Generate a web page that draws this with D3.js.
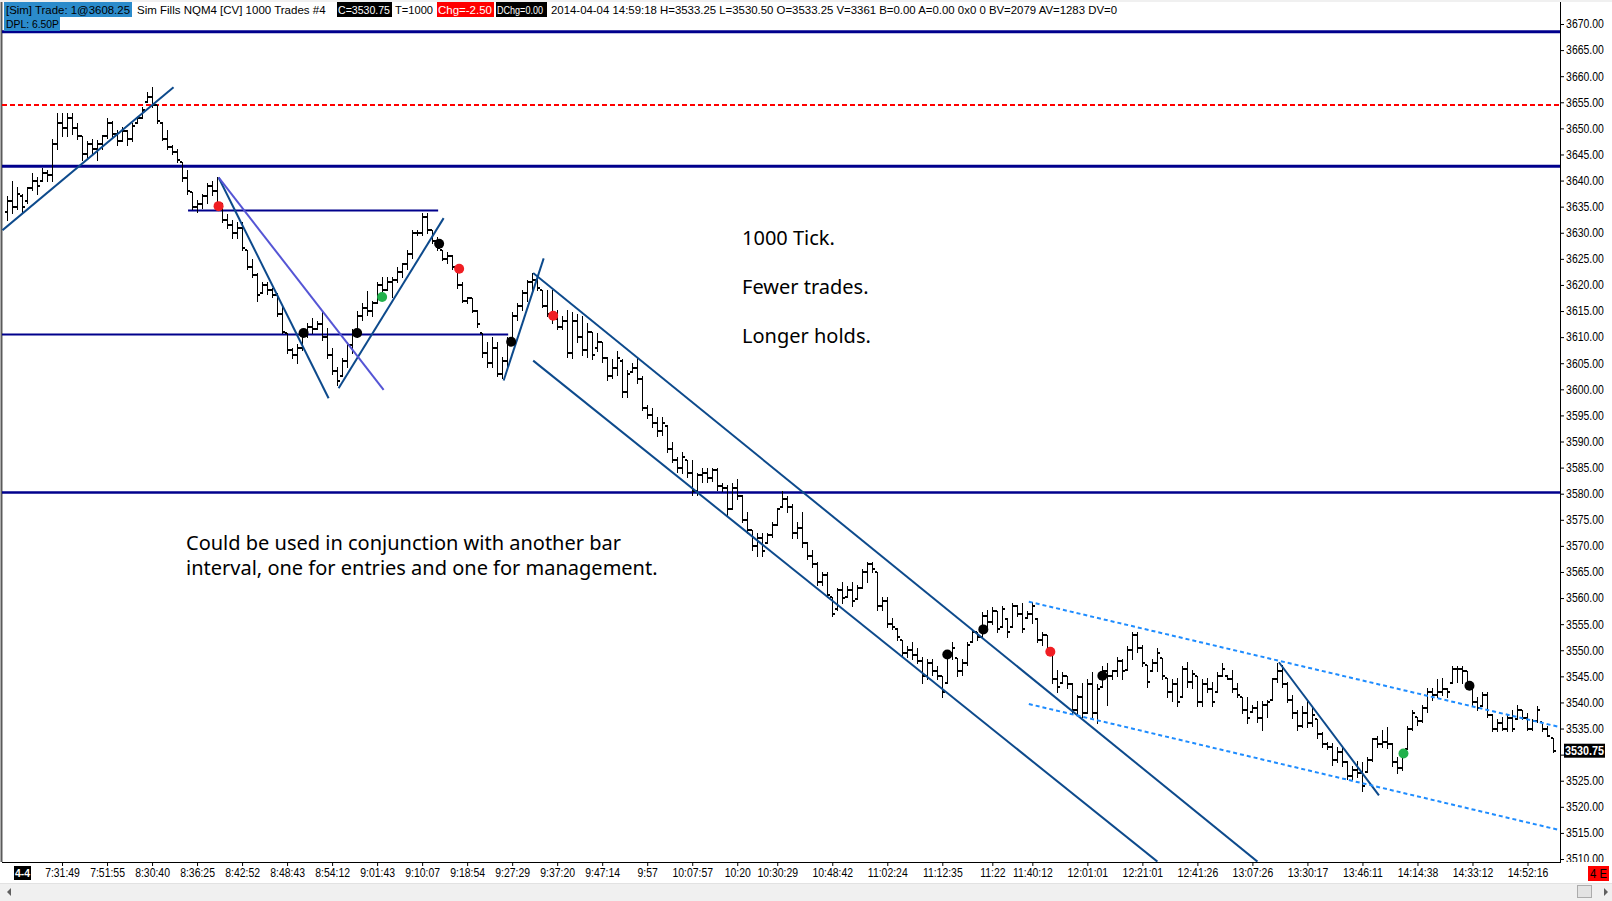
<!DOCTYPE html>
<html>
<head>
<meta charset="utf-8">
<script src="https://cdn.jsdelivr.net/npm/d3@7/dist/d3.min.js"></script>
<style>
body { margin: 0; background: #fff; overflow: hidden; }
svg { display: block; background: #fff; }
.hdr { font-family: "Liberation Sans", Arial, sans-serif; font-size: 11.5px; }
.axis text { font-family: "Liberation Sans", Arial, sans-serif; font-size: 12px; fill: #000; }
.axis line { stroke: #000; }
.note { font-family: "Noto Sans", "Open Sans", sans-serif; font-size: 20px; fill: #000; }
</style>
</head>
<body>
<svg id="chart" width="1612" height="901"></svg>
<script>
// 1000 tick bars, NQM4, 2014-04-04
var opens = [
 3634,3636,3635,3637,3636,3638.5,3640,3640,3641.5,3641,
 3647,3651,3650,3652,3650,3648.5,3645,3647,3646,3647,
 3648.5,3651,3649,3647.5,3649.5,3648,3651,3652,3655,3656,
 3654.5,3651,3648,3646.5,3645.5,3643.5,3640.5,3637.75,3635,3635.5,
 3637,3639,3638,3635,3632.5,3631.5,3630,3631,3626.75,3623.5,
 3622,3618.5,3620,3619,3618,3614.5,3610.75,3607.5,3606.5,3608,
 3610.5,3612,3611.5,3612.5,3610,3606.5,3603.5,3602.5,3605.5,3608.5,
 3610.5,3614,3615.5,3615,3616.5,3620,3619,3620.5,3621,3622.5,
 3624,3626,3630,3630,3633,3630.5,3628.5,3626.75,3625,3625.5,
 3623,3620,3617,3617.5,3615,3610.75,3607,3605,3608,3603,
 3605.5,3609.5,3614,3616,3618.5,3620.5,3621,3619,3616,3614.5,
 3613.5,3612,3613,3607,3613,3610,3607.5,3611,3608,3609,
 3606,3602.5,3604,3605.5,3599.5,3603.25,3604,3602,3596.5,3595,
 3593.5,3592,3593,3588.5,3586.5,3585,3586.5,3584,3580.5,3583.5,
 3584,3583,3584.5,3581.5,3581,3577,3581,3579.5,3575,3573,
 3570,3571.5,3570.5,3572,3574,3577.5,3579,3577.5,3572.5,3573.5,
 3570.5,3568,3566.5,3563,3564.5,3560.25,3558,3561.5,3560.25,3561.5,
 3559.75,3562,3565,3566.5,3565,3558.5,3559.5,3555,3554,3552,
 3549.5,3550,3549,3548,3545,3547.5,3546,3545,3543.75,3549.5,
 3548.5,3546,3547.5,3551.5,3553.5,3552.5,3556.5,3555.5,3557.5,3554.5,
 3556,3554.5,3558.5,3557,3556.25,3557,3556,3552,3553,3549.5,
 3544.5,3543.75,3545,3543.5,3538.5,3541,3538,3543.5,3538,3543,
 3546,3545,3546,3548,3546.25,3550,3553,3550.5,3547.25,3546,
 3547.5,3548.5,3544.75,3542,3543.5,3541,3546.5,3544,3545,3540,
 3543.5,3542.5,3542,3545,3545,3544.5,3542.5,3541,3538.5,3538.25,
 3539,3537,3539.5,3540.5,3544.5,3546,3543.5,3540.5,3538,3535.5,
 3538,3536,3536.75,3534,3532,3531.5,3529,3530.5,3528.5,3526,
 3527,3526.5,3526.75,3529,3533,3532,3532.5,3532,3528.5,3527.5,
 3531,3535,3537.25,3536.5,3539,3542,3541.5,3542,3542.5,3543.75,
 3546.5,3546.5,3546,3543.5,3540,3539.25,3541.5,3537.5,3535,3536,
 3535,3537,3536.75,3538.5,3537,3535,3536.5,3536.25,3535,3533.25
];
var highs = [
 3637,3640,3638.75,3637.5,3638.75,3641.5,3640.75,3642.5,3642,3648,
 3653,3653,3653,3653,3651,3648.5,3647.5,3648,3647.75,3648.75,
 3652,3651.5,3649.75,3650.25,3649.75,3651,3652.25,3654,3657,3658,
 3654.5,3651.25,3649.75,3646.75,3646,3643.5,3642,3637.75,3636.25,3637.5,
 3639.5,3640,3640.75,3635.75,3633.5,3632.5,3632,3632,3626.75,3625,
 3622.25,3620.5,3620.5,3619.5,3618.5,3615.75,3610.75,3608,3608.75,3611.5,
 3612.75,3613.75,3613,3614.75,3611.75,3608,3604.25,3606,3609,3611.5,
 3615,3616.5,3618.75,3617,3620.5,3621.5,3621.5,3621.5,3623.5,3624.25,
 3626.75,3630.5,3630.5,3633.75,3633.75,3630.5,3629.25,3626.75,3626.25,3625.75,
 3623.25,3620.5,3617.75,3617.5,3615.25,3610.75,3609,3610,3609,3606.25,
 3610,3614.75,3616.5,3619,3621,3622.25,3621.5,3619,3619,3619,
 3615.25,3614,3615.25,3614.75,3614.5,3614,3612.75,3611,3610.75,3609,
 3606.25,3605.75,3607.25,3605.75,3603.75,3605,3606.25,3602.5,3597,3596.5,
 3594.75,3594.75,3593.25,3590,3587,3588,3586.5,3586.5,3584,3585,
 3585,3585,3585,3582,3581.75,3582,3582.75,3579.75,3576.5,3573,
 3572.5,3572.5,3572.5,3574.5,3577.25,3580.5,3579.5,3578,3574.5,3576.5,
 3570.75,3569.25,3567,3565,3565,3560.25,3562,3563,3562.25,3563,
 3562.5,3565.5,3567,3567,3565,3560.25,3560.25,3556.25,3554.25,3552,
 3550.75,3551.5,3550.5,3548.75,3548.25,3548.25,3547,3545,3550,3551.5,
 3548.5,3548.25,3551.5,3554,3553.5,3557.25,3557.75,3558.25,3557.5,3558.5,
 3556.25,3559,3558.75,3559,3557.5,3559.25,3556.25,3553.5,3553,3549.5,
 3546.25,3545.75,3545,3543.75,3541.5,3543.75,3544.5,3545.75,3543.5,3547,
 3547.5,3546.25,3548.75,3548.25,3550.75,3553.5,3553.5,3551,3547.25,3548.25,
 3550.5,3548.5,3544.75,3544.5,3544.75,3547,3547.75,3546.25,3545,3544.5,
 3544.75,3544,3545.75,3547.5,3545.25,3546.25,3543.75,3541,3541,3539.5,
 3540.25,3540.25,3540.5,3544.75,3547.5,3547.25,3544,3541.5,3538.5,3539.25,
 3540.25,3539.25,3536.75,3534.25,3532.5,3532.25,3531.5,3531.25,3528.75,3527.75,
 3528.75,3528.5,3529.5,3533.25,3533.5,3534.75,3535.25,3532.25,3529.5,3531,
 3535.5,3538.5,3537.25,3539.5,3542.75,3542.75,3544.5,3544.75,3542.75,3547,
 3547,3547,3546,3543.75,3541,3542,3542,3537.75,3536.75,3537.25,
 3537.75,3538.5,3539.5,3538.5,3538,3536.75,3539.25,3536.25,3535.5,3533.25
];
var lows = [
 3632.5,3633.75,3634.5,3633.75,3635.75,3638.25,3637.5,3640,3640,3640,
 3646,3648.5,3648.5,3649,3648,3644,3644.5,3645,3644,3646,
 3648.25,3648.25,3646.75,3647.5,3646.75,3647.5,3651,3652,3655,3654,
 3651,3647.75,3646,3645,3643.5,3640,3637.5,3634.5,3634,3634.75,
 3635.75,3637.25,3634.5,3632,3631,3629,3629,3626.75,3623,3621.5,
 3617,3618.5,3618.25,3617.75,3614,3610.75,3607,3606,3605,3607.5,
 3610,3610.75,3611.5,3609.5,3606,3603,3600.75,3602.5,3604.25,3607,
 3610,3613.25,3614.25,3614,3616.5,3618,3619,3617.75,3620.5,3621.5,
 3623,3625.25,3629.5,3629.5,3630,3628,3626.75,3624.75,3624.25,3623,
 3619.5,3616.75,3616.5,3614.75,3612,3606.25,3604.25,3604.25,3602.5,3602.25,
 3604.25,3609.5,3613.25,3615.25,3617,3619,3619,3615.75,3614,3612.75,
 3611.5,3611.5,3606.25,3606,3609,3606.5,3606.25,3605.75,3607.25,3605.25,
 3601.75,3602.25,3602.75,3598.5,3598.5,3603.25,3601.25,3596,3594.5,3592.75,
 3591,3591.25,3588,3586,3584.25,3584,3583.25,3579.75,3579.75,3582.25,
 3582.25,3582.5,3580.75,3580.5,3576,3577,3579,3574.5,3572.5,3569.25,
 3568,3568,3570.5,3571.75,3574,3577.5,3576.5,3571.5,3571.5,3569.75,
 3567.5,3566,3562.5,3562.5,3560.25,3556.5,3557.75,3559,3560.25,3558.5,
 3559.75,3562,3563,3565,3557.75,3557.75,3554.5,3554,3552,3548.75,
 3548.75,3548.25,3547.5,3543.75,3544.5,3545.25,3544.5,3541,3543.75,3548.25,
 3545,3545.25,3547.25,3551.5,3552,3552.5,3554.5,3555,3553.5,3554.5,
 3552.5,3554.5,3556.5,3553.5,3556.25,3555.25,3551.5,3551,3549.75,3543.75,
 3542,3543.75,3542.75,3538,3537.75,3537.25,3538,3537.25,3536,3543,
 3539.5,3544.5,3545,3544.5,3546.25,3548.25,3549.75,3547,3543,3546,
 3546,3544.5,3541,3540.25,3539.25,3541,3543,3542.75,3539.25,3539.25,
 3542,3539.25,3542,3545,3544.5,3542,3541,3538,3536,3538.25,
 3536.25,3534.75,3537.25,3540.5,3544,3543,3540,3537,3534.75,3535.25,
 3535.25,3535.5,3533.25,3531.5,3531,3528,3528.5,3527.75,3525.25,3525.25,
 3525.75,3523,3526.75,3528.75,3531.5,3531.5,3531.25,3527.75,3526.5,3527,
 3531,3534.75,3535.75,3536.25,3538.25,3540.5,3541,3541.5,3541,3543.75,
 3544,3543.75,3543,3539.25,3538.5,3539.25,3537.25,3534.5,3534.5,3534.75,
 3534.5,3534.5,3536.75,3536.75,3534.75,3534.75,3536.25,3534.5,3533.5,3530.5
];
var closes = [
 3636,3635,3637.5,3635,3638.5,3640,3639,3641.5,3641,3647,
 3651,3650,3652,3650,3648.5,3645,3647,3646,3647,3648.5,
 3651,3649,3647.5,3649.5,3648,3650.5,3652,3653.5,3656,3654.5,
 3651.5,3648,3646.5,3645.5,3644,3640.5,3638,3635,3635.5,3637,
 3639,3638,3635,3632.5,3631.5,3630,3631,3627,3623.5,3622,
 3618,3620,3619,3618,3614.5,3611,3607.5,3606.5,3608,3610.5,
 3612,3611.5,3612.5,3610,3606.5,3603.5,3601.5,3605.5,3608.5,3610.5,
 3614,3615.5,3615,3616.5,3620,3619,3620.5,3621,3622.5,3624,
 3626,3630,3630,3633,3630.5,3628.5,3627,3625,3625.5,3623.5,
 3620,3617,3617.5,3615,3612.5,3607,3605,3608,3603,3605.5,
 3609.5,3614,3616,3618.5,3620.5,3621,3619.5,3616,3614.5,3613.5,
 3612,3613,3607,3613,3610,3607.5,3611,3606.5,3609,3606,
 3602.5,3604,3606,3599.5,3603,3604,3602,3596.5,3595,3593.5,
 3592,3593.5,3588.5,3586.5,3585,3587,3584,3580.5,3583.5,3584,
 3583,3584.5,3581.5,3581,3577,3581,3579.5,3575,3573,3570,
 3571.5,3569,3572,3574,3577,3579,3577.5,3572.5,3573.5,3570.5,
 3568,3566.5,3563,3564.5,3560.5,3557,3561.5,3560,3561.5,3559.5,
 3562,3565,3566.5,3565.5,3558.5,3559.5,3555,3554.5,3552.5,3549.5,
 3550,3549,3548,3545,3547.5,3546,3545,3542,3549.5,3550.5,
 3546,3547.5,3551,3553.5,3552.5,3556.5,3555.5,3557.5,3554,3558,
 3553.5,3558.5,3557,3554,3557,3558.5,3552,3553,3550,3544.5,
 3543,3545,3543.5,3538.5,3541,3538,3543.5,3538,3542.5,3546,
 3545,3546,3548,3546,3550,3553,3550.5,3547.5,3544,3547.5,
 3549.5,3545,3542,3543.5,3540,3546.5,3544,3545.5,3540,3543.5,
 3542.5,3540,3545,3546.5,3544.5,3542.5,3541.5,3538.5,3537,3539,
 3537,3539.5,3540,3544.5,3546,3543.5,3540.5,3538,3535.5,3538,
 3536,3537.5,3534,3532,3531.5,3529,3530.5,3528.5,3526,3527,
 3526.5,3524,3529,3533,3532,3532.5,3532,3528.5,3527.5,3529.5,
 3535,3538,3536.5,3539,3542,3541.5,3542,3542.5,3542,3546.5,
 3546.5,3546,3543.5,3540,3539,3541.5,3537.5,3535,3536,3535,
 3537,3535,3538.5,3537,3535,3536.5,3538.5,3535,3533.5,3530.75
];

// time axis: bar index of each label
var timeTicks = [11,20,29,38,47,56,65,74,83,92,101,110,119,128,137,146,154,
                 165,176,187,197,205,216,227,238,249,260,271,282,293,304];
var timeLabels = ["7:31:49","7:51:55","8:30:40","8:36:25","8:42:52","8:48:43","8:54:12",
                  "9:01:43","9:10:07","9:18:54","9:27:29","9:37:20","9:47:14","9:57",
                  "10:07:57","10:20","10:30:29","10:48:42","11:02:24","11:12:35","11:22",
                  "11:40:12","12:01:01","12:21:01","12:41:26","13:07:26","13:30:17",
                  "13:46:11","14:14:38","14:33:12","14:52:16"];

// drawn levels: [price, from bar, to bar]
var levelLines = [[3668.5,-1,310.6],[3642.75,-1,310.6],[3580.25,-1,310.6],
                  [3610.5,-1,100.2],[3634.25,36.2,86.2]];
var stopLevel = 3654.5;
// trend lines: [bar0, price0, bar1, price1]
var trendLines = [[-0.9,3630.5,33.3,3657.9],[42.3,3640.6,64.3,3598.3],
                  [66.3,3600.2,87.3,3632.8],[99.3,3601.7,107.3,3625.1],
                  [105.2,3622.3,250,3509.5],[105.2,3605.5,230,3509.5],
                  [254.3,3547.7,274.3,3522.2]];
var fanLine = [42.3,3640.6,75.3,3599.9];
var channelLines = [[204.3,3559.3,310.6,3535.25],[204.3,3539.7,310.6,3515.5]];
// trade markers: [bar, price, kind]
var markers = [[42.3,3635.1,"sell"],[59.3,3610.8,"exit"],[70,3610.8,"exit"],
               [75,3617.7,"buy"],[86.4,3627.9,"exit"],[90.4,3623.1,"sell"],
               [100.8,3609.1,"exit"],[109.2,3614.1,"sell"],[188,3549.2,"exit"],
               [195.2,3554,"exit"],[208.6,3549.7,"sell"],[219,3545.1,"exit"],
               [279.2,3530.2,"buy"],[292.4,3543.2,"exit"]];

var notesRight = ["1000 Tick.", "Fewer trades.", "Longer holds."];
var notesLeft = ["Could be used in conjunction with another bar",
                 "interval, one for entries and one for management."];

var svg = d3.select("#chart"),
	axisX = 1560,
	plotBottom = 862,
	narrow = "scale(0.87,1)";

var x = d3.scaleLinear().domain([0, 309]).range([7, 1552.5]);
var y = d3.scaleLinear().domain([3510, 3670]).range([859, 24]);

var markColor = {sell: "#f01e23", buy: "#22b14c", exit: "#000"};
var lastClose = closes[closes.length - 1];

// frame
svg.append("rect").attr("x", 0).attr("y", 0).attr("width", 1612).attr("height", 2).attr("fill", "#f0f0f0");
svg.append("line").attr("x1", 1.5).attr("x2", 1.5).attr("y1", 2).attr("y2", plotBottom)
	.attr("stroke", "#5a5a5a").attr("stroke-width", 2);

svg.append("clipPath").attr("id", "plotClip")
	.append("rect").attr("x", 2).attr("y", 2).attr("width", axisX - 2).attr("height", plotBottom - 2);
svg.append("clipPath").attr("id", "axisClip")
	.append("rect").attr("x", axisX - 2).attr("y", 0).attr("width", 60).attr("height", plotBottom);

var plot = svg.append("g").attr("clip-path", "url(#plotClip)");

// levels
plot.selectAll(".level").data(levelLines).enter().append("line")
	.attr("x1", function(d) { return x(d[1]); })
	.attr("x2", function(d) { return x(d[2]); })
	.attr("y1", function(d) { return y(d[0]); })
	.attr("y2", function(d) { return y(d[0]); })
	.attr("stroke", "#00008c")
	.attr("stroke-width", function(d, i) { return i < 2 ? 3 : (i == 2 ? 2.5 : 2); });

plot.append("line")
	.attr("x1", x(-1)).attr("x2", x(310.6))
	.attr("y1", y(stopLevel)).attr("y2", y(stopLevel))
	.attr("stroke", "#ff0000").attr("stroke-width", 2).attr("stroke-dasharray", "5,3");

// bars
var idx = d3.range(highs.length);
var bars = plot.append("g").attr("shape-rendering", "crispEdges");
bars.selectAll(".hl").data(idx).enter().append("line")
	.attr("x1", function(i) { return Math.round(x(i)) + 0.5; })
	.attr("x2", function(i) { return Math.round(x(i)) + 0.5; })
	.attr("y1", function(i) { return Math.round(y(highs[i])); })
	.attr("y2", function(i) { return Math.round(y(lows[i])) + 1; })
	.attr("stroke", "#000").attr("stroke-width", 1);
bars.selectAll(".op").data(idx).enter().append("line")
	.attr("x1", function(i) { return Math.round(x(i)) - 2; })
	.attr("x2", function(i) { return Math.round(x(i)); })
	.attr("y1", function(i) { return Math.round(y(opens[i])); })
	.attr("y2", function(i) { return Math.round(y(opens[i])); })
	.attr("stroke", "#000").attr("stroke-width", 2);
bars.selectAll(".cl").data(idx).enter().append("line")
	.attr("x1", function(i) { return Math.round(x(i)) + 1; })
	.attr("x2", function(i) { return Math.round(x(i)) + 3; })
	.attr("y1", function(i) { return Math.round(y(closes[i])); })
	.attr("y2", function(i) { return Math.round(y(closes[i])); })
	.attr("stroke", "#000").attr("stroke-width", 2);

// trend lines
plot.selectAll(".trend").data(trendLines).enter().append("line")
	.attr("x1", function(d) { return x(d[0]); })
	.attr("y1", function(d) { return y(d[1]); })
	.attr("x2", function(d) { return x(d[2]); })
	.attr("y2", function(d) { return y(d[3]); })
	.attr("stroke", "#0d4a8c").attr("stroke-width", 2);

plot.append("line")
	.attr("x1", x(fanLine[0])).attr("y1", y(fanLine[1]))
	.attr("x2", x(fanLine[2])).attr("y2", y(fanLine[3]))
	.attr("stroke", "#5555d5").attr("stroke-width", 2);

plot.selectAll(".chan").data(channelLines).enter().append("line")
	.attr("x1", function(d) { return x(d[0]); })
	.attr("y1", function(d) { return y(d[1]); })
	.attr("x2", function(d) { return x(d[2]); })
	.attr("y2", function(d) { return y(d[3]); })
	.attr("stroke", "#1e8cff").attr("stroke-width", 2).attr("stroke-dasharray", "4,3");

plot.selectAll(".mark").data(markers).enter().append("circle")
	.attr("cx", function(d) { return x(d[0]); })
	.attr("cy", function(d) { return y(d[1]); })
	.attr("r", 5)
	.attr("fill", function(d) { return markColor[d[2]]; });

// notes
svg.selectAll(".noteR").data(notesRight).enter().append("text")
	.attr("class", "note")
	.attr("x", 742)
	.attr("y", function(d, i) { return 245 + i * 49; })
	.text(function(d) { return d; });
svg.selectAll(".noteL").data(notesLeft).enter().append("text")
	.attr("class", "note")
	.attr("x", 186)
	.attr("y", function(d, i) { return 550 + i * 25; })
	.text(function(d) { return d; });

// price axis (clip in page coords, so the clip sits on an outer group)
var yAxis = svg.append("g")
	.attr("clip-path", "url(#axisClip)")
	.append("g")
	.attr("class", "axis")
	.attr("transform", "translate(" + axisX + ",0)")
	.call(d3.axisRight(y).tickValues(d3.range(3510, 3671, 5)).tickSize(4).tickSizeOuter(0)
		.tickPadding(3).tickFormat(d3.format(".2f")));
yAxis.select(".domain").remove();
yAxis.selectAll("text").attr("transform", narrow);
// the last-price tag covers the label underneath it
yAxis.selectAll(".tick").filter(function(d) { return Math.abs(y(d) - y(lastClose)) < 12; })
	.select("text").remove();
svg.append("line").attr("x1", axisX + 0.5).attr("x2", axisX + 0.5).attr("y1", 2).attr("y2", plotBottom)
	.attr("stroke", "#000").attr("stroke-width", 1);

// last price
var lastY = y(lastClose);
svg.append("rect").attr("x", 1564).attr("y", lastY - 7).attr("width", 41).attr("height", 14).attr("fill", "#000");
svg.append("text").attr("x", 1565).attr("y", lastY).attr("dy", "0.35em")
	.attr("fill", "#fff").attr("font-weight", "bold")
	.attr("textLength", 39).attr("lengthAdjust", "spacingAndGlyphs")
	.style("font-family", "'Liberation Sans', Arial, sans-serif").style("font-size", "12px")
	.text(d3.format(".2f")(lastClose));

// time axis
var xAxis = svg.append("g")
	.attr("class", "axis")
	.attr("transform", "translate(0," + plotBottom + ")")
	.call(d3.axisBottom(x).tickValues(timeTicks).tickSize(4).tickSizeOuter(0).tickPadding(2)
		.tickFormat(function(d, i) { return timeLabels[i]; }));
xAxis.select(".domain").remove();
xAxis.selectAll("text").attr("transform", narrow);
svg.append("line").attr("x1", 2).attr("x2", axisX + 1).attr("y1", plotBottom + 0.5).attr("y2", plotBottom + 0.5)
	.attr("stroke", "#000");

svg.append("rect").attr("x", 14).attr("y", 866).attr("width", 17).attr("height", 14).attr("fill", "#000");
svg.append("text").attr("x", 15).attr("y", 873).attr("dy", "0.35em")
	.attr("fill", "#fff").attr("font-weight", "bold")
	.attr("textLength", 15).attr("lengthAdjust", "spacingAndGlyphs")
	.style("font-family", "'Liberation Sans', Arial, sans-serif").style("font-size", "11px")
	.text("4-4");
svg.append("rect").attr("x", 1588).attr("y", 866).attr("width", 21).attr("height", 15).attr("fill", "#ff0000");
svg.append("text").attr("x", 1590).attr("y", 873.5).attr("dy", "0.35em")
	.attr("fill", "#000")
	.attr("textLength", 17).attr("lengthAdjust", "spacingAndGlyphs")
	.style("font-family", "'Liberation Sans', Arial, sans-serif").style("font-size", "12px")
	.text("4 E");

// scroll bar
svg.append("rect").attr("x", 0).attr("y", 883).attr("width", 1612).attr("height", 18).attr("fill", "#f0f0f0");
svg.append("line").attr("x1", 0).attr("x2", 1612).attr("y1", 883.5).attr("y2", 883.5).attr("stroke", "#e2e2e2");
svg.append("path").attr("d", "M7,892 L11,888 L11,896 Z").attr("fill", "#606060");
svg.append("path").attr("d", "M1604,888 L1608,892 L1604,896 Z").attr("fill", "#606060");
svg.append("rect").attr("x", 1577.5).attr("y", 885.5).attr("width", 14).attr("height", 12)
	.attr("fill", "#e3e3e3").attr("stroke", "#acacac");

// header line
var hdr = svg.append("g").attr("class", "hdr");
function hbox(x0, y0, w, h, fill) {
	hdr.append("rect").attr("x", x0).attr("y", y0).attr("width", w).attr("height", h).attr("fill", fill);
}
function htext(x0, y0, txt, fill, width) {
	var t = hdr.append("text").attr("x", x0).attr("y", y0).attr("fill", fill).text(txt);
	if (width && t.node().getComputedTextLength() > width) {
		t.attr("textLength", width).attr("lengthAdjust", "spacingAndGlyphs");
	}
	return t;
}
hbox(4, 2, 128, 15, "#2b8bcb");
hbox(4, 17, 56, 14, "#2b8bcb");
htext(6, 13.5, "[Sim]  Trade: 1@3608.25", "#000", 124);
htext(6, 28, "DPL: 6.50P", "#000", 53);
htext(137, 13.5, "Sim Fills  NQM4 [CV]  1000 Trades  #4", "#000", 196);
hbox(337, 2, 55, 15, "#000");
htext(338, 13.5, "C=3530.75", "#fff", 52);
htext(395, 13.5, "T=1000", "#000", 38);
hbox(437, 2, 57, 15, "#ff0000");
htext(438, 13.5, "Chg=-2.50", "#fff", 54);
hbox(496, 2, 51, 15, "#000");
htext(497, 13.5, "DChg=0.00", "#fff", 46);
htext(551, 13.5, "2014-04-04 14:59:18 H=3533.25 L=3530.50 O=3533.25 V=3361 B=0.00 A=0.00 0x0 0 BV=2079 AV=1283 DV=0", "#000", 566);
</script>
</body>
</html>
